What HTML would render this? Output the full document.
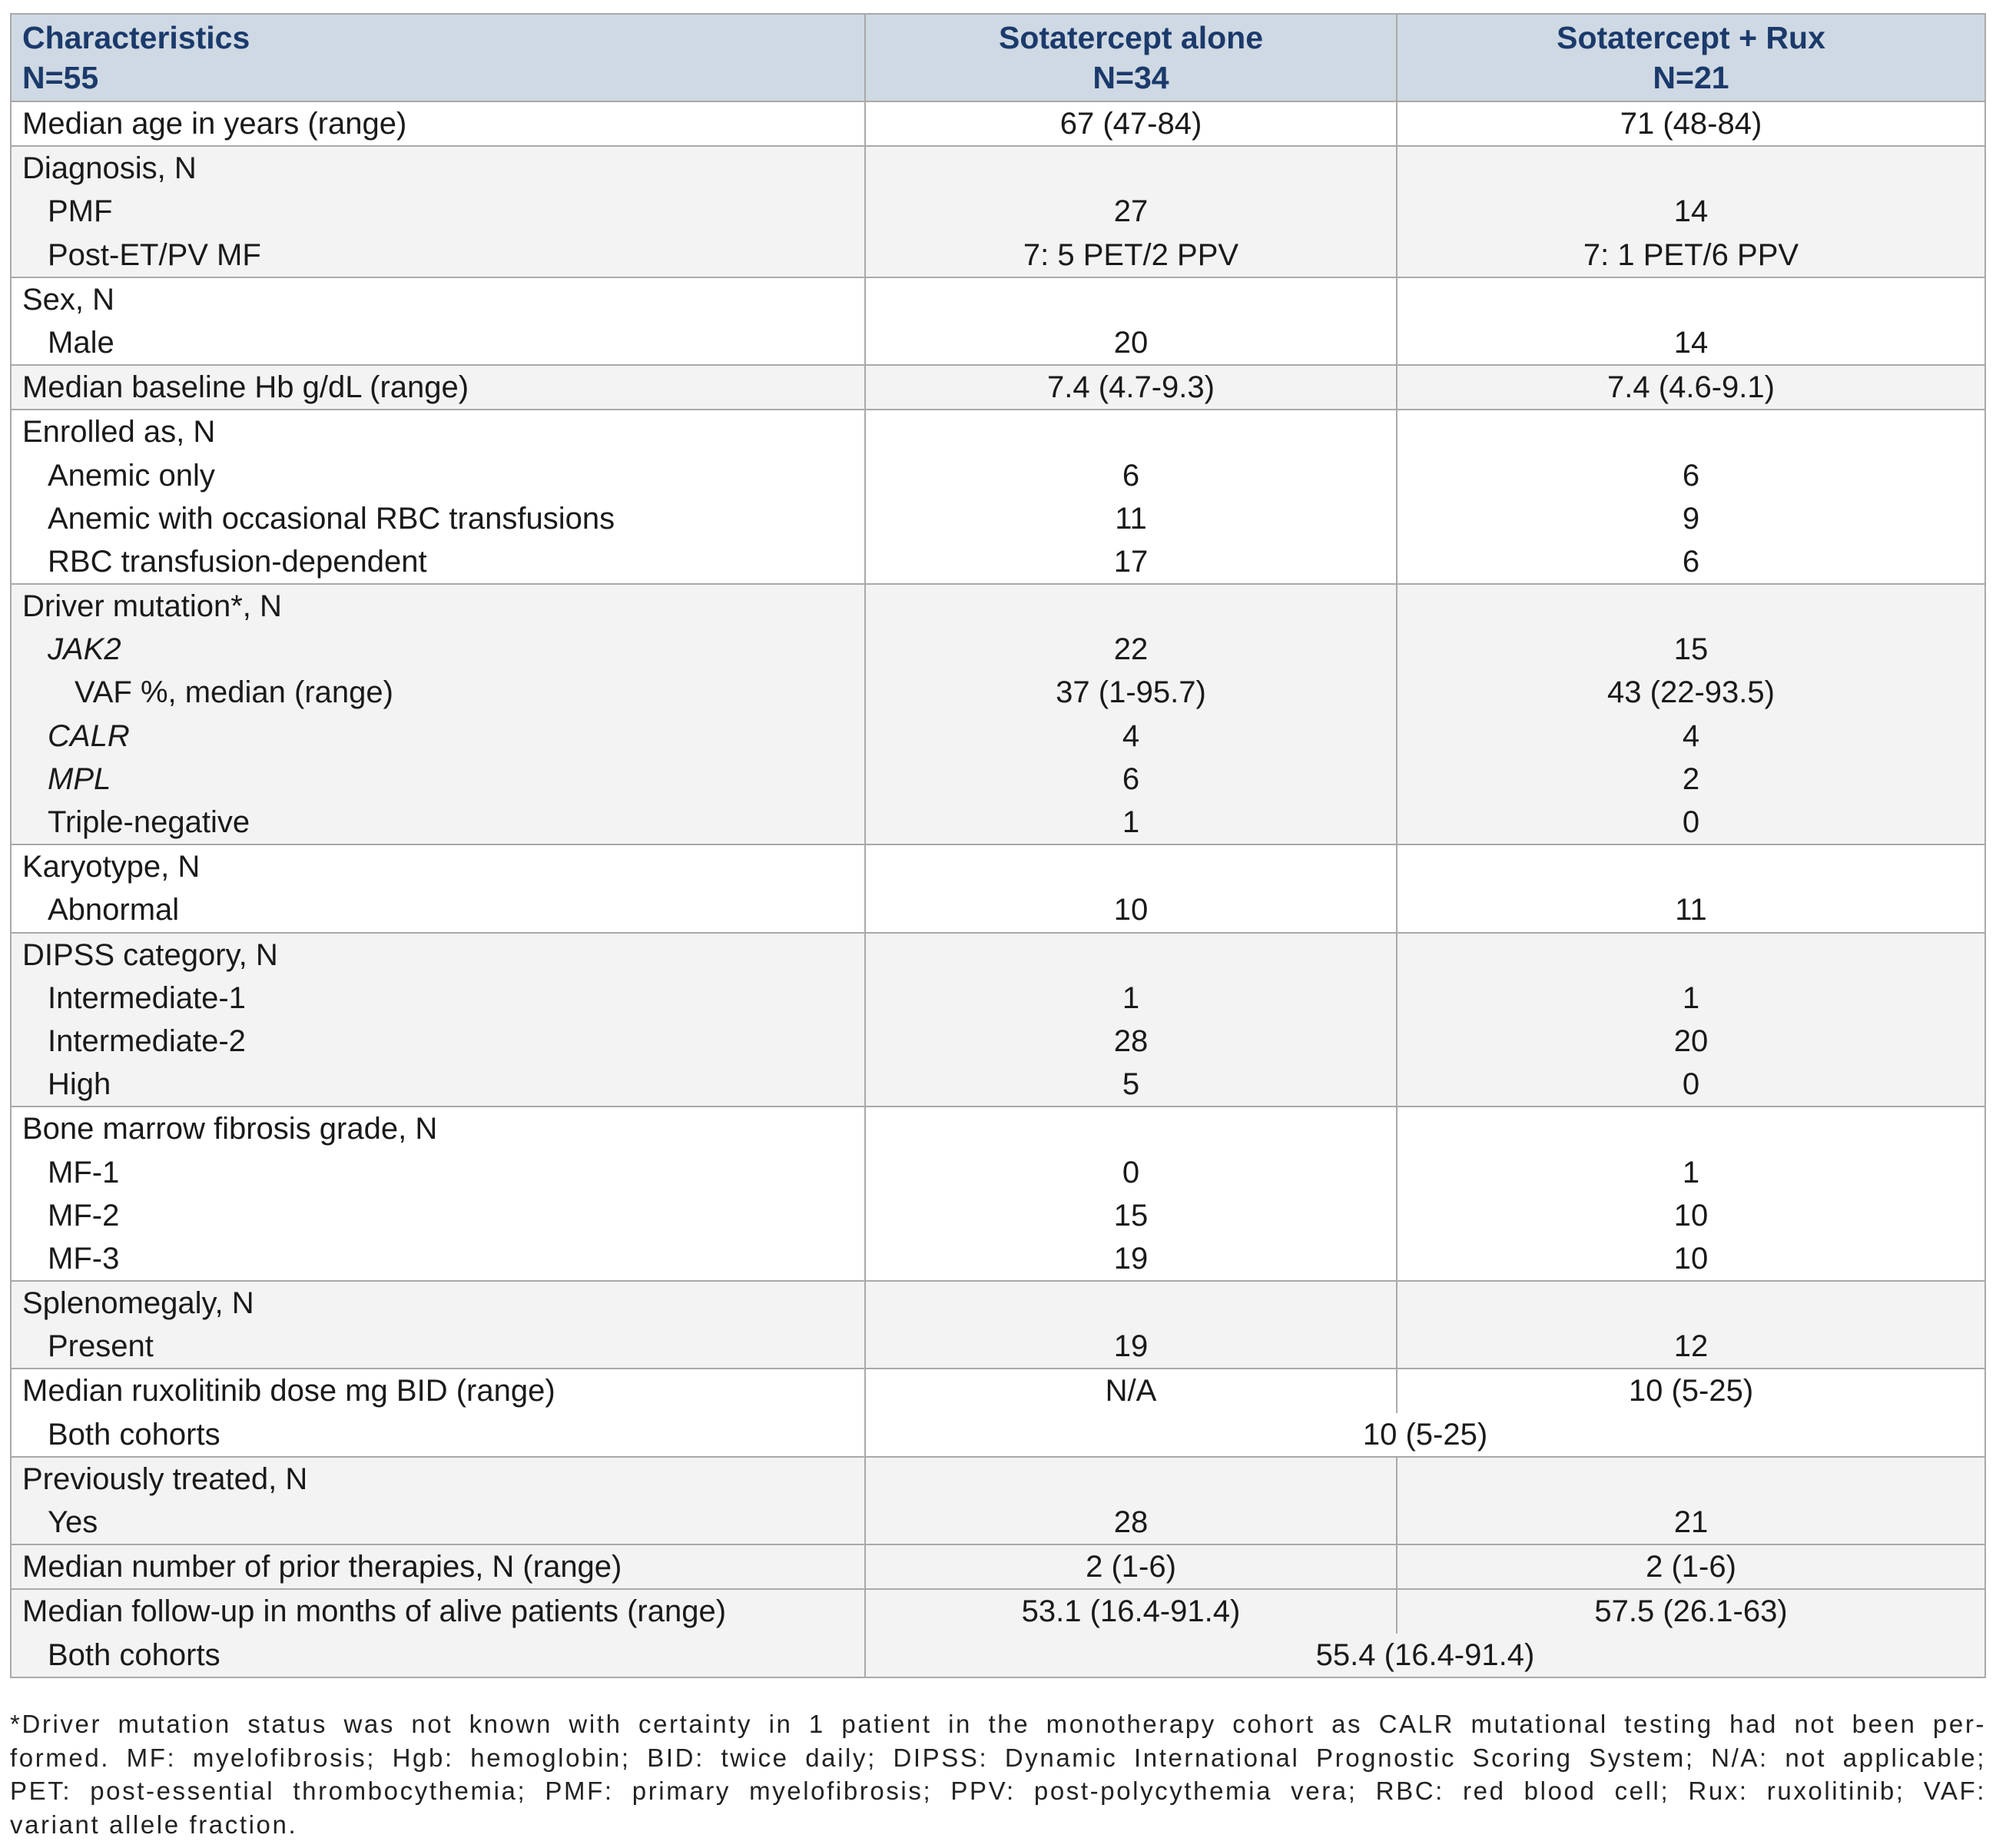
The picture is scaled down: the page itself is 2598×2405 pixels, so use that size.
<!DOCTYPE html>
<html><head><meta charset="utf-8"><style>
*{box-sizing:border-box;margin:0;padding:0}
body{width:2598px;height:2405px;background:#fff;font-family:"Liberation Sans",Arial,sans-serif;color:#1a1a1a;position:relative;overflow:hidden}
#t{position:absolute;left:13px;top:17px;width:2572px;border:2px solid #a9a9a9;border-bottom:none}
.hd{display:flex;height:114px;background:#cfd9e3;border-bottom:2px solid #a9a9a9;color:#1b3a6b;font-weight:bold;font-size:41px}
.hd div{line-height:52px;padding-top:4px}
.g{border-bottom:2px solid #a9a9a9}
.gr{background:#f3f3f3}
.l{display:flex;height:56.2px;font-size:40px;line-height:56.2px}
.c1{width:1110px;padding-left:14px;white-space:nowrap}
.c2{width:692px;border-left:2px solid #a9a9a9;text-align:center}
.c3{flex:1;border-left:2px solid #a9a9a9;text-align:center}
.i{padding-left:47px}
.ii{padding-left:82px}
#fn{position:absolute;left:13px;top:2222px;width:2572px;font-size:33px;line-height:43.5px;color:#222;letter-spacing:2.6px}
#fn div{text-align:justify;text-align-last:justify;white-space:nowrap}
#fn div.last{text-align-last:left}
</style></head><body>
<div id="t">
<div class="hd"><div class="c1">Characteristics<br>N=55</div><div class="c2">Sotatercept alone<br>N=34</div><div class="c3">Sotatercept + Rux<br>N=21</div></div>
<div class="g"><div class="l"><div class="c1">Median age in years (range)</div><div class="c2">67 (47-84)</div><div class="c3">71 (48-84)</div></div></div>
<div class="g gr">
<div class="l"><div class="c1">Diagnosis, N</div><div class="c2"></div><div class="c3"></div></div>
<div class="l"><div class="c1 i">PMF</div><div class="c2">27</div><div class="c3">14</div></div>
<div class="l"><div class="c1 i">Post-ET/PV MF</div><div class="c2">7: 5 PET/2 PPV</div><div class="c3">7: 1 PET/6 PPV</div></div></div>
<div class="g">
<div class="l"><div class="c1">Sex, N</div><div class="c2"></div><div class="c3"></div></div>
<div class="l"><div class="c1 i">Male</div><div class="c2">20</div><div class="c3">14</div></div></div>
<div class="g gr"><div class="l"><div class="c1">Median baseline Hb g/dL (range)</div><div class="c2">7.4 (4.7-9.3)</div><div class="c3">7.4 (4.6-9.1)</div></div></div>
<div class="g">
<div class="l"><div class="c1">Enrolled as, N</div><div class="c2"></div><div class="c3"></div></div>
<div class="l"><div class="c1 i">Anemic only</div><div class="c2">6</div><div class="c3">6</div></div>
<div class="l"><div class="c1 i">Anemic with occasional RBC transfusions</div><div class="c2">11</div><div class="c3">9</div></div>
<div class="l"><div class="c1 i">RBC transfusion-dependent</div><div class="c2">17</div><div class="c3">6</div></div></div>
<div class="g gr">
<div class="l"><div class="c1">Driver mutation*, N</div><div class="c2"></div><div class="c3"></div></div>
<div class="l"><div class="c1 i"><i>JAK2</i></div><div class="c2">22</div><div class="c3">15</div></div>
<div class="l"><div class="c1 ii">VAF %, median (range)</div><div class="c2">37 (1-95.7)</div><div class="c3">43 (22-93.5)</div></div>
<div class="l"><div class="c1 i"><i>CALR</i></div><div class="c2">4</div><div class="c3">4</div></div>
<div class="l"><div class="c1 i"><i>MPL</i></div><div class="c2">6</div><div class="c3">2</div></div>
<div class="l"><div class="c1 i">Triple-negative</div><div class="c2">1</div><div class="c3">0</div></div></div>
<div class="g">
<div class="l"><div class="c1">Karyotype, N</div><div class="c2"></div><div class="c3"></div></div>
<div class="l"><div class="c1 i">Abnormal</div><div class="c2">10</div><div class="c3">11</div></div></div>
<div class="g gr">
<div class="l"><div class="c1">DIPSS category, N</div><div class="c2"></div><div class="c3"></div></div>
<div class="l"><div class="c1 i">Intermediate-1</div><div class="c2">1</div><div class="c3">1</div></div>
<div class="l"><div class="c1 i">Intermediate-2</div><div class="c2">28</div><div class="c3">20</div></div>
<div class="l"><div class="c1 i">High</div><div class="c2">5</div><div class="c3">0</div></div></div>
<div class="g">
<div class="l"><div class="c1">Bone marrow fibrosis grade, N</div><div class="c2"></div><div class="c3"></div></div>
<div class="l"><div class="c1 i">MF-1</div><div class="c2">0</div><div class="c3">1</div></div>
<div class="l"><div class="c1 i">MF-2</div><div class="c2">15</div><div class="c3">10</div></div>
<div class="l"><div class="c1 i">MF-3</div><div class="c2">19</div><div class="c3">10</div></div></div>
<div class="g gr">
<div class="l"><div class="c1">Splenomegaly, N</div><div class="c2"></div><div class="c3"></div></div>
<div class="l"><div class="c1 i">Present</div><div class="c2">19</div><div class="c3">12</div></div></div>
<div class="g">
<div class="l"><div class="c1">Median ruxolitinib dose mg BID (range)</div><div class="c2">N/A</div><div class="c3">10 (5-25)</div></div>
<div class="l"><div class="c1 i">Both cohorts</div><div class="c3">10 (5-25)</div></div></div>
<div class="g gr">
<div class="l"><div class="c1">Previously treated, N</div><div class="c2"></div><div class="c3"></div></div>
<div class="l"><div class="c1 i">Yes</div><div class="c2">28</div><div class="c3">21</div></div></div>
<div class="g gr"><div class="l"><div class="c1">Median number of prior therapies, N (range)</div><div class="c2">2 (1-6)</div><div class="c3">2 (1-6)</div></div></div>
<div class="g gr">
<div class="l"><div class="c1">Median follow-up in months of alive patients (range)</div><div class="c2">53.1 (16.4-91.4)</div><div class="c3">57.5 (26.1-63)</div></div>
<div class="l"><div class="c1 i">Both cohorts</div><div class="c3">55.4 (16.4-91.4)</div></div></div>
</div>
<div id="fn">
<div>*Driver mutation status was not known with certainty in 1 patient in the monotherapy cohort as CALR mutational testing had not been per-</div>
<div>formed. MF: myelofibrosis; Hgb: hemoglobin; BID: twice daily; DIPSS: Dynamic International Prognostic Scoring System; N/A: not applicable;</div>
<div>PET: post-essential thrombocythemia; PMF: primary myelofibrosis; PPV: post-polycythemia vera; RBC: red blood cell; Rux: ruxolitinib; VAF:</div>
<div class="last">variant allele fraction.</div>
</div>
</body></html>
